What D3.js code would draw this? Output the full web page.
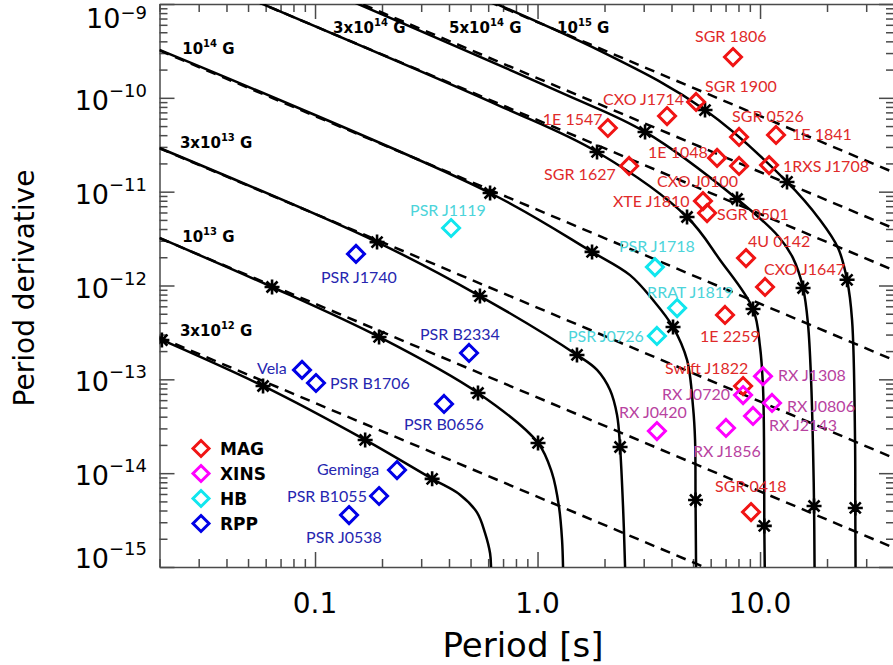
<!DOCTYPE html>
<html>
<head>
<meta charset="utf-8">
<script src="https://cdn.jsdelivr.net/npm/d3@7"></script>
<style>
  body { margin: 0; background: #fff; }
  svg { display: block; }
  .lab { font-family: Lato, "Open Sans", sans-serif; font-size: 16px; }
</style>
</head>
<body>
<svg id="chart" width="893" height="665"></svg>
<script>
// --- values: [period (s), period derivative] ---

// dashed lines of constant dipole field, drawn between two end points
const fieldLines = [
  [[0.02, 2.8e-13], [40, 1.4e-16]],   // 3x10^12 G
  [[0.02, 3.2e-12], [40, 1.6e-15]],   // 10^13 G
  [[0.02, 2.9e-11], [40, 1.45e-14]],  // 3x10^13 G
  [[0.02, 3.2e-10], [40, 1.6e-13]],   // 10^14 G
  [[0.02, 2.9e-9],  [40, 1.45e-12]],  // 3x10^14 G
  [[0.02, 8.1e-9],  [40, 4.05e-12]],  // 5x10^14 G
  [[0.02, 3.2e-8],  [40, 1.6e-11]]    // 10^15 G
];

// evolutionary tracks with field decay (solid)
const track3e12 = [[0.02, 2.7e-13], [0.0584, 8.5e-14], [0.168, 2.26e-14], [0.336, 8.7e-15], [0.448, 5.9e-15],
  [0.535, 3.8e-15], [0.581, 2.3e-15], [0.612, 1.4e-15], [0.618, 1.0e-15], [0.619, 8e-16]];
const track1e13 = [[0.02, 3.21e-12], [0.0641, 9.64e-13], [0.194, 2.83e-13], [0.540, 7.15e-14], [1.005, 2.10e-14],
  [1.162, 1.0e-14], [1.249, 4.36e-15], [1.289, 1.94e-15], [1.302, 1.0e-15], [1.303, 8e-16]];
const track3e13 = [[0.02, 2.92e-11], [0.190, 2.90e-12], [0.551, 7.72e-13], [1.504, 1.82e-13], [1.851, 1.26e-13],
  [2.118, 7.69e-14], [2.277, 4.17e-14], [2.349, 1.90e-14], [2.423, 4.36e-15], [2.474, 1.0e-15], [2.476, 8e-16]];
const track1e14 = [[0.02, 3.24e-10], [0.612, 9.68e-12], [1.758, 2.28e-12], [2.604, 1.29e-12], [3.304, 7.0e-13],
  [4.064, 3.61e-13], [4.698, 1.61e-13], [5.0, 5.07e-14], [5.105, 2.26e-14], [5.13, 5.18e-15], [5.158, 1.0e-15], [5.16, 8e-16]];
const track3e14 = [[0.02, 2.9e-9], [0.678, 8.18e-11], [1.851, 2.65e-11], [4.698, 5.37e-12], [6.611, 1.87e-12],
  [9.301, 5.61e-13], [10.0, 2.21e-13], [10.31, 8.28e-14], [10.42, 2.26e-14], [10.45, 2.74e-15], [10.5, 1.0e-15], [10.52, 8e-16]];
const track5e14 = [[0.02, 8.1e-9], [1.262, 1.15e-10], [3.042, 4.33e-11], [7.882, 8.36e-12], [12.05, 3.37e-12],
  [14.07, 1.96e-12], [15.61, 9.4e-13], [16.44, 3.79e-13], [16.96, 9.84e-14], [17.31, 1.77e-14], [17.49, 4.47e-15], [17.58, 1.0e-15], [17.6, 8e-16]];
const track1e15 = [[0.02, 3.24e-8], [1.91, 3.16e-10], [5.659, 7.41e-11], [13.22, 1.27e-11], [18.61, 4.99e-12],
  [22.42, 2.51e-12], [24.61, 1.15e-12], [25.92, 4.28e-13], [26.73, 2.26e-14], [26.8, 4.26e-15], [26.87, 1.0e-15], [26.9, 8e-16]];

// age markers (asterisks) on the tracks
const ageMarks = [
  [0.0205, 2.62e-13], [0.0584, 8.5e-14], [0.168, 2.26e-14], [0.336, 8.7e-15],
  [0.0641, 9.64e-13], [0.194, 2.83e-13], [0.540, 7.15e-14], [1.005, 2.10e-14],
  [0.190, 2.90e-12], [0.551, 7.72e-13], [1.504, 1.82e-13], [2.349, 1.90e-14],
  [0.612, 9.68e-12], [1.758, 2.28e-12], [4.064, 3.61e-13], [5.13, 5.18e-15],
  [1.851, 2.65e-11], [4.698, 5.37e-12], [9.301, 5.61e-13], [10.45, 2.74e-15],
  [3.042, 4.33e-11], [7.882, 8.36e-12], [15.61, 9.4e-13], [17.49, 4.47e-15],
  [5.659, 7.41e-11], [13.22, 1.27e-11], [24.61, 1.15e-12], [26.8, 4.26e-15]
];

// track labels: [text before superscript, superscript, after, P, Pdot of baseline start]
const trackLabels = [
  ['10', '14', ' G', 0.0253, 2.93e-10],
  ['3x10', '13', ' G', 0.0247, 2.92e-11],
  ['10', '13', ' G', 0.0253, 2.90e-12],
  ['3x10', '12', ' G', 0.0247, 2.90e-13],
  ['3x10', '14', ' G', 0.1205, 4.91e-10],
  ['5x10', '14', ' G', 0.400, 4.91e-10],
  ['10', '15', ' G', 1.224, 4.91e-10]
];

// sources
const magnetars = [
  ['SGR 1806', 7.56, 2.72e-10], ['SGR 1900', 5.16, 9.03e-11], ['CXO J1714', 3.82, 6.40e-11],
  ['1E 1547', 2.07, 4.77e-11], ['SGR 0526', 8.05, 3.83e-11], ['1E 1841', 11.80, 4.02e-11],
  ['1E 1048', 6.41, 2.29e-11], ['CXO J0100', 8.05, 1.88e-11], ['1RXS J1708', 10.98, 1.92e-11],
  ['SGR 1627', 2.58, 1.88e-11], ['XTE J1810', 5.54, 7.94e-12], ['SGR 0501', 5.78, 5.92e-12],
  ['4U 0142', 8.65, 1.96e-12], ['CXO J1647', 10.53, 9.64e-13], ['1E 2259', 6.96, 4.85e-13],
  ['Swift J1822', 8.39, 8.49e-14], ['SGR 0418', 9.11, 3.85e-15]
];
const xins = [
  ['RX J1308', 10.31, 1.08e-13], ['RX J0720', 8.39, 6.80e-14], ['RX J0806', 11.32, 5.60e-14],
  ['RX J2143', 9.30, 4.07e-14], ['RX J0420', 3.44, 2.81e-14], ['RX J1856', 7.03, 3.03e-14]
];
const highB = [
  ['PSR J1119', 0.4087, 4.10e-12], ['PSR J1718', 3.37, 1.57e-12],
  ['RRAT J1819', 4.24, 5.75e-13], ['PSR J0726', 3.44, 2.90e-13]
];
const rpp = [
  ['PSR J1740', 0.1528, 2.17e-12], ['PSR B2334', 0.4922, 1.91e-13], ['Vela', 0.0874, 1.26e-13],
  ['PSR B1706', 0.1010, 9.14e-14], ['PSR B0656', 0.380, 5.46e-14], ['Geminga', 0.2336, 1.08e-14],
  ['PSR B1055', 0.1940, 5.71e-15], ['PSR J0538', 0.1422, 3.58e-15]
];

const classes = ['MAG', 'XINS', 'HB', 'RPP'];
const xMajor = [0.1, 1, 10];
const xTickText = ['0.1', '1.0', '10.0'];
const yMajor = [1e-15, 1e-14, 1e-13, 1e-12, 1e-11, 1e-10, 1e-9];
const yExp = ['15', '14', '13', '12', '11', '10', '9'];

// label placement, offset of text start from the diamond centre
const labelOffset = {
  'SGR 1806': [-38, -15], 'SGR 1900': [9, -10], 'CXO J1714': [-64, -11], '1E 1547': [-65, -3],
  'SGR 0526': [-7, -15], '1E 1841': [16, 5], '1E 1048': [-69, 0], 'CXO J0100': [-82, 21],
  '1RXS J1708': [14, 7], 'SGR 1627': [-85, 14], 'XTE J1810': [-90, 6], 'SGR 0501': [10, 7],
  '4U 0142': [2, -11], 'CXO J1647': [-1, -12], '1E 2259': [-25, 27], 'Swift J1822': [-78, -12],
  'SGR 0418': [-36, -20],
  'RX J1308': [15, 5], 'RX J0720': [-81, 5], 'RX J0806': [15, 9], 'RX J2143': [16, 15],
  'RX J0420': [-38, -13], 'RX J1856': [-33, 29],
  'PSR J1119': [-41, -12], 'PSR J1718': [-36, -15], 'RRAT J1819': [-30, -10], 'PSR J0726': [-89, 6],
  'PSR J1740': [-35, 29], 'PSR B2334': [-49, -13], 'Vela': [-45, 4], 'PSR B1706': [14, 6],
  'PSR B0656': [-40, 26], 'Geminga': [-80, 5], 'PSR B1055': [-92, 6], 'PSR J0538': [-43, 28]
};

const markColor = { MAG: '#f01414', XINS: '#ff00ff', HB: '#10e6ee', RPP: '#0000e6' };
const textColor = { MAG: '#e02a2a', XINS: '#b8429f', HB: '#4cd4da', RPP: '#2626b0' };

// --- drawing ---
const svg = d3.select('#chart');
const pLeft = 159.5, pRight = 894, pTop = 4, pBottom = 567;

const x = d3.scaleLog().domain([0.02, 40]).range([pLeft, pRight]);
const y = d3.scaleLog().domain([1e-15, 1e-9]).range([pBottom, pTop]);

svg.append('defs').append('clipPath').attr('id', 'plot')
  .append('rect').attr('x', pLeft).attr('y', pTop).attr('width', pRight - pLeft).attr('height', pBottom - pTop);

const isMajor = v => Math.abs(Math.log10(v) - Math.round(Math.log10(v))) < 1e-6;
const xMinor = x.ticks().filter(v => !isMajor(v));
const yMinor = y.ticks().filter(v => !isMajor(v));

const axes = svg.append('g');
function side(axis, scale, major, minor, tx, ty) {
  const g = axes.append('g').attr('transform', `translate(${tx},${ty})`);
  g.call(axis(scale).tickValues(major).tickSize(-15).tickSizeOuter(0).tickFormat(''));
  g.append('g').call(axis(scale).tickValues(minor).tickSize(-8).tickSizeOuter(0).tickFormat(''))
    .select('.domain').remove();
  g.selectAll('path, line').attr('stroke', '#4a4a4a').attr('stroke-width', 1.5);
}
side(d3.axisBottom, x, xMajor, xMinor, 0, pBottom);
side(d3.axisTop, x, xMajor, xMinor, 0, pTop);
side(d3.axisLeft, y, yMajor, yMinor, pLeft, 0);
side(d3.axisRight, y, yMajor, yMinor, pRight, 0);

// tick labels
svg.append('g').selectAll('text').data(xMajor).join('text')
  .attr('x', d => x(d)).attr('y', 613)
  .attr('text-anchor', 'middle')
  .style('font-family', '"DejaVu Sans", sans-serif').style('font-size', '28px')
  .text((d, i) => xTickText[i]);

const yl = svg.append('g').selectAll('text').data(yMajor).join('text')
  .attr('x', 147)
  .attr('y', d => Math.max(28, Math.min(568, y(d) + 12)))
  .attr('text-anchor', 'end')
  .style('font-family', '"DejaVu Sans", sans-serif').style('font-size', '27px');
yl.append('tspan').text('10');
yl.append('tspan').attr('dy', d => d === 1e-9 ? -9 : -13).style('font-size', '18px')
  .text((d, i) => '\u2212' + yExp[i]);

// axis titles
svg.append('text').attr('x', 523).attr('y', 657).attr('text-anchor', 'middle')
  .style('font-family', '"DejaVu Sans", sans-serif').style('font-size', '34px')
  .text('Period [s]');
svg.append('text').attr('transform', 'translate(34,288) rotate(-90)').attr('text-anchor', 'middle')
  .style('font-family', '"DejaVu Sans", sans-serif').style('font-size', '28px')
  .text('Period derivative');

const plot = svg.append('g').attr('clip-path', 'url(#plot)');

const line = d3.line().x(d => x(d[0])).y(d => y(d[1]));
const smooth = d3.line().x(d => x(d[0])).y(d => y(d[1])).curve(d3.curveCatmullRom.alpha(0.5));

plot.append('g').selectAll('path').data(fieldLines).join('path')
  .attr('d', line).attr('fill', 'none')
  .attr('stroke', '#000').attr('stroke-width', 2.5).attr('stroke-dasharray', '10,7');

plot.append('g').selectAll('path')
  .data([track3e12, track1e13, track3e13, track1e14, track3e14, track5e14, track1e15]).join('path')
  .attr('d', smooth).attr('fill', 'none')
  .attr('stroke', '#000').attr('stroke-width', 2.5);

plot.append('g').selectAll('path').data(ageMarks).join('path')
  .attr('transform', d => `translate(${x(d[0])},${y(d[1])})`)
  .attr('d', 'M-7.5,0H7.5M0,-7.5V7.5M-5.5,-5.5L5.5,5.5M-5.5,5.5L5.5,-5.5')
  .attr('stroke', '#000').attr('stroke-width', 2.6).attr('fill', 'none');

// field labels
const tl = svg.append('g').selectAll('text').data(trackLabels).join('text')
  .attr('x', d => x(d[3])).attr('y', d => y(d[4]))
  .style('font-family', '"DejaVu Sans", sans-serif').style('font-size', '15px').style('font-weight', 'bold');
tl.append('tspan').text(d => d[0]);
tl.append('tspan').attr('dy', -7).style('font-size', '10px').text(d => d[1]);
tl.append('tspan').attr('dy', 7).text(d => d[2]);

// sources: diamonds + names
const diamond = 'M0,-8.5L8.5,0L0,8.5L-8.5,0Z';
[[magnetars, 'MAG'], [xins, 'XINS'], [highB, 'HB'], [rpp, 'RPP']].forEach(([rows, cls]) => {
  const g = svg.append('g');
  g.selectAll('path').data(rows).join('path')
    .attr('transform', d => `translate(${x(d[1])},${y(d[2])})`)
    .attr('d', diamond).attr('fill', 'none')
    .attr('stroke', markColor[cls]).attr('stroke-width', 3);
  g.selectAll('text').data(rows).join('text')
    .attr('class', 'lab')
    .attr('x', d => x(d[1]) + labelOffset[d[0]][0])
    .attr('y', d => y(d[2]) + labelOffset[d[0]][1])
    .attr('fill', textColor[cls])
    .text(d => d[0]);
});

// legend
const lg = svg.append('g').selectAll('g').data(classes).join('g')
  .attr('transform', (d, i) => `translate(201,${448.5 + i * 25})`);
lg.append('path').attr('d', 'M0,-8L8,0L0,8L-8,0Z').attr('fill', 'none')
  .attr('stroke', d => markColor[d]).attr('stroke-width', 3);
lg.append('text').attr('x', 19).attr('y', 6.5)
  .style('font-family', '"DejaVu Sans", sans-serif').style('font-size', '17px').style('font-weight', 'bold')
  .text(d => d);
</script>
</body>
</html>
